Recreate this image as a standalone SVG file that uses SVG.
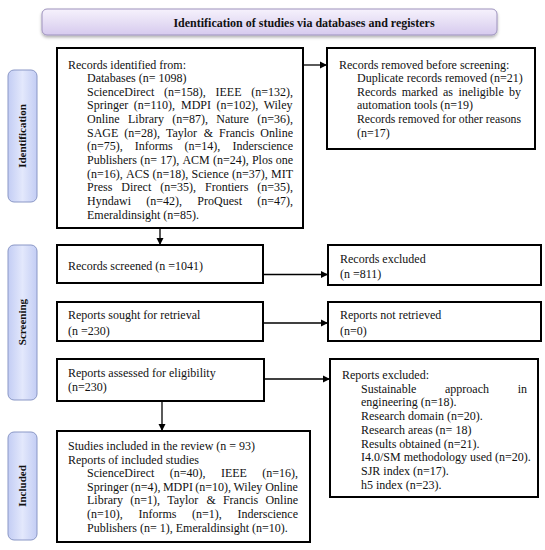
<svg xmlns="http://www.w3.org/2000/svg" width="545" height="550" viewBox="0 0 545 550">
<style>
  .t{font-family:"Liberation Serif","Times New Roman",serif;font-size:12px;fill:#111}
  .hd{font-family:"Liberation Serif","Times New Roman",serif;font-size:12px;font-weight:bold;fill:#111}
  .ph{font-family:"Liberation Serif","Times New Roman",serif;font-size:11px;font-weight:bold;fill:#111}
  .box{fill:#fff;stroke:#000;stroke-width:2}
  .pill{fill:url(#pg);stroke:#8a97c6;stroke-width:1}
  .ln{stroke:#000;stroke-width:1.3;fill:none}
</style>
<defs>
  <linearGradient id="hg" x1="0" y1="0" x2="0" y2="1">
    <stop offset="0" stop-color="#f6f2fc"/>
    <stop offset="1" stop-color="#d6caee"/>
  </linearGradient>
  <linearGradient id="pg" x1="0" y1="0" x2="1" y2="0">
    <stop offset="0" stop-color="#c3cdf4"/>
    <stop offset="0.5" stop-color="#e3e8fc"/>
    <stop offset="1" stop-color="#c3cdf4"/>
  </linearGradient>
  <filter id="sh" x="-5%" y="-30%" width="110%" height="170%">
    <feDropShadow dx="0" dy="2" stdDeviation="1.5" flood-color="#000" flood-opacity="0.3"/>
  </filter>
  <marker id="ah" markerWidth="8" markerHeight="8" refX="7" refY="4" orient="auto" markerUnits="userSpaceOnUse">
    <path d="M0,0.5 L7,4 L0,7.5 Z" fill="#000"/>
  </marker>
</defs>

<g id="header">
  <rect x="42" y="9" width="455" height="26" rx="5" fill="url(#hg)" stroke="#9d92bd" stroke-width="1" filter="url(#sh)"/>
  <text class="hd" x="304" y="27" text-anchor="middle">Identification of studies via databases and registers</text>
</g>

<g id="phase-identification">
  <rect class="pill" x="8" y="70" width="29" height="132" rx="6"/>
  <text class="ph" transform="translate(26,136) rotate(-90)" text-anchor="middle">Identification</text>
</g>
<g id="phase-screening">
  <rect class="pill" x="8" y="245" width="29" height="155" rx="6"/>
  <text class="ph" transform="translate(26,322) rotate(-90)" text-anchor="middle">Screening</text>
</g>
<g id="phase-included">
  <rect class="pill" x="8" y="432" width="29" height="108" rx="6"/>
  <text class="ph" transform="translate(26,486) rotate(-90)" text-anchor="middle">Included</text>
</g>

<g id="records-identified">
  <rect class="box" x="57" y="48" width="246" height="180"/>
  <text class="t">
    <tspan x="68" y="68.5">Records identified from:</tspan>
    <tspan x="87" y="82.1">Databases (n= 1098)</tspan>
    <tspan x="87" y="95.8">ScienceDirect</tspan><tspan x="164" y="95.8">(n=158),</tspan><tspan x="215.5" y="95.8">IEEE</tspan><tspan x="251.2" y="95.8">(n=132),</tspan>
    <tspan x="87" y="109.4">Springer</tspan><tspan x="133.8" y="109.4">(n=110),</tspan><tspan x="181" y="109.4">MDPI</tspan><tspan x="216.5" y="109.4">(n=102),</tspan><tspan x="263.7" y="109.4">Wiley</tspan>
    <tspan x="87" y="123.1">Online</tspan><tspan x="128" y="123.1">Library</tspan><tspan x="172.2" y="123.1">(n=87),</tspan><tspan x="216.3" y="123.1">Nature</tspan><tspan x="257.2" y="123.1">(n=36),</tspan>
    <tspan x="87" y="136.7">SAGE</tspan><tspan x="124.2" y="136.7">(n=28),</tspan><tspan x="165.9" y="136.7">Taylor</tspan><tspan x="203.8" y="136.7">&amp;</tspan><tspan x="219" y="136.7">Francis</tspan><tspan x="260.3" y="136.7">Online</tspan>
    <tspan x="87" y="150.3">(n=75),</tspan><tspan x="134.7" y="150.3">Informs</tspan><tspan x="184.6" y="150.3">(n=14),</tspan><tspan x="232.4" y="150.3">Inderscience</tspan>
    <tspan x="87" y="164">Publishers</tspan><tspan x="140.2" y="164">(n=</tspan><tspan x="160.2" y="164">17),</tspan><tspan x="182.4" y="164">ACM</tspan><tspan x="212.9" y="164">(n=24),</tspan><tspan x="251.9" y="164">Plos</tspan><tspan x="275.8" y="164">one</tspan>
    <tspan x="87" y="177.6">(n=16),</tspan><tspan x="126" y="177.6">ACS</tspan><tspan x="152.5" y="177.6">(n=18),</tspan><tspan x="191.5" y="177.6">Science</tspan><tspan x="232" y="177.6">(n=37),</tspan><tspan x="271" y="177.6">MIT</tspan>
    <tspan x="87" y="191.3">Press</tspan><tspan x="121.3" y="191.3">Direct</tspan><tspan x="160.2" y="191.3">(n=35),</tspan><tspan x="205" y="191.3">Frontiers</tspan><tspan x="257.2" y="191.3">(n=35),</tspan>
    <tspan x="87" y="204.9">Hyndawi</tspan><tspan x="146.2" y="204.9">(n=42),</tspan><tspan x="197.3" y="204.9">ProQuest</tspan><tspan x="257.2" y="204.9">(n=47),</tspan>
    <tspan x="87" y="218.5">Emeraldinsight (n=85).</tspan>
  </text>
</g>

<g id="records-removed">
  <rect class="box" x="327" y="48" width="208" height="101"/>
  <text class="t">
    <tspan x="339" y="68.5">Records removed before screening:</tspan>
    <tspan x="357" y="82.1">Duplicate records removed (n=21)</tspan>
    <tspan x="357" y="95.8">Records</tspan><tspan x="401.7" y="95.8">marked</tspan><tspan x="443" y="95.8">as</tspan><tspan x="458.4" y="95.8">ineligible</tspan><tspan x="509" y="95.8">by</tspan>
    <tspan x="357" y="109.4">automation tools (n=19)</tspan>
    <tspan x="357" y="123.1" textLength="164" lengthAdjust="spacingAndGlyphs">Records removed for other reasons</tspan>
    <tspan x="357" y="136.7">(n=17)</tspan>
  </text>
</g>

<g id="records-screened">
  <rect class="box" x="57" y="245" width="206" height="38"/>
  <text class="t" x="68" y="269.5">Records screened (n =1041)</text>
</g>
<g id="records-excluded">
  <rect class="box" x="328" y="245" width="213" height="40"/>
  <text class="t"><tspan x="340" y="263">Records excluded</tspan><tspan x="340" y="278">(n =811)</tspan></text>
</g>

<g id="reports-sought">
  <rect class="box" x="57" y="302" width="206" height="39"/>
  <text class="t"><tspan x="68" y="319">Reports sought for retrieval</tspan><tspan x="68" y="334.5">(n =230)</tspan></text>
</g>
<g id="reports-not-retrieved">
  <rect class="box" x="328" y="302" width="213" height="39"/>
  <text class="t"><tspan x="340" y="319">Reports not retrieved</tspan><tspan x="340" y="334.5">(n=0)</tspan></text>
</g>

<g id="reports-assessed">
  <rect class="box" x="57" y="359" width="207" height="42"/>
  <text class="t"><tspan x="68" y="377">Reports assessed for eligibility</tspan><tspan x="68" y="391">(n=230)</tspan></text>
</g>
<g id="reports-excluded">
  <rect class="box" x="330" y="359" width="208" height="138"/>
  <text class="t">
    <tspan x="342" y="379">Reports excluded:</tspan>
    <tspan x="361" y="392.7">Sustainable</tspan><tspan x="445" y="392.7">approach</tspan><tspan x="517.7" y="392.7">in</tspan>
    <tspan x="361" y="406.4">engineering (n=18).</tspan>
    <tspan x="361" y="420.1">Research domain (n=20).</tspan>
    <tspan x="361" y="433.8">Research areas (n= 18)</tspan>
    <tspan x="361" y="447.5">Results obtained (n=21).</tspan>
    <tspan x="361" y="461.2">I4.0/SM methodology used (n=20).</tspan>
    <tspan x="361" y="474.9">SJR index (n=17).</tspan>
    <tspan x="361" y="488.6">h5 index (n=23).</tspan>
  </text>
</g>

<g id="studies-included">
  <rect class="box" x="57" y="431" width="253" height="111"/>
  <text class="t">
    <tspan x="68" y="450">Studies included in the review (n = 93)</tspan>
    <tspan x="68" y="463.6">Reports of included studies</tspan>
    <tspan x="87" y="477.2">ScienceDirect</tspan><tspan x="169.7" y="477.2">(n=40),</tspan><tspan x="220.9" y="477.2">IEEE</tspan><tspan x="262.2" y="477.2">(n=16),</tspan>
    <tspan x="87" y="490.8">Springer</tspan><tspan x="130.7" y="490.8">(n=4),</tspan><tspan x="162.9" y="490.8">MDPI</tspan><tspan x="195.3" y="490.8">(n=10),</tspan><tspan x="233.5" y="490.8">Wiley</tspan><tspan x="265.2" y="490.8">Online</tspan>
    <tspan x="87" y="504.4">Library</tspan><tspan x="130.2" y="504.4">(n=1),</tspan><tspan x="167.2" y="504.4">Taylor</tspan><tspan x="206.4" y="504.4">&amp;</tspan><tspan x="222.9" y="504.4">Francis</tspan><tspan x="265.4" y="504.4">Online</tspan>
    <tspan x="87" y="518">(n=10),</tspan><tspan x="138.4" y="518">Informs</tspan><tspan x="192" y="518">(n=1),</tspan><tspan x="237.4" y="518">Inderscience</tspan>
    <tspan x="87" y="531.6">Publishers (n= 1), Emeraldinsight (n=10).</tspan>
  </text>
</g>

<g id="connectors">
  <line class="ln" x1="160" y1="228" x2="160" y2="245" marker-end="url(#ah)"/>
  <line class="ln" x1="303" y1="65" x2="327" y2="65" marker-end="url(#ah)"/>
  <line class="ln" x1="263" y1="274.5" x2="328" y2="274.5" marker-end="url(#ah)"/>
  <line class="ln" x1="263" y1="323" x2="328" y2="323" marker-end="url(#ah)"/>
  <line class="ln" x1="264" y1="379" x2="330" y2="379" marker-end="url(#ah)"/>
  <line class="ln" x1="162" y1="401" x2="162" y2="431" marker-end="url(#ah)"/>
</g>
</svg>
